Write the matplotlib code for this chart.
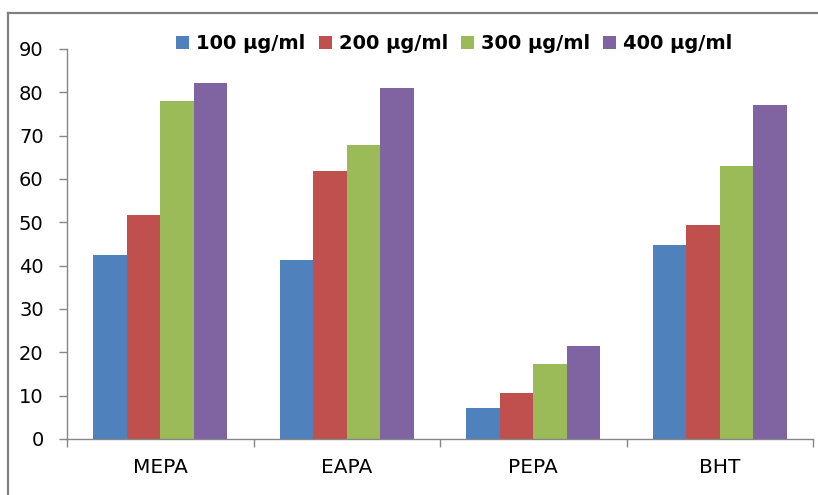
import matplotlib
matplotlib.use("Agg")
import matplotlib.pyplot as plt
import numpy as np
from matplotlib.lines import Line2D

categories = ["MEPA", "EAPA", "PEPA", "BHT"]
series_labels = ["100 µg/ml", "200 µg/ml", "300 µg/ml", "400 µg/ml"]
v100 = [42.5, 41.3, 7.1, 44.8]
v200 = [51.8, 61.8, 10.6, 49.3]
v300 = [77.9, 67.8, 17.4, 62.9]
v400 = [82.2, 81.1, 21.4, 77.1]
yticks = [0, 10, 20, 30, 40, 50, 60, 70, 80, 90]
colors = ["#4F81BD", "#C0504D", "#9BBB59", "#8064A2"]

plt.rcParams['font.family'] = ['DejaVu Sans']
W, H = 818, 495
fig = plt.figure(figsize=(W / 100, H / 100), dpi=100)
ax = fig.add_axes([67 / W, 1 - 439 / H, (813 - 67) / W, (439 - 49) / H])

x = np.arange(len(categories))
bw = 0.18
data = [v100, v200, v300, v400]
for i, (vals, lab, c) in enumerate(zip(data, series_labels, colors)):
    ax.bar(x + (i - 1.5) * bw, vals, width=bw, color=c, label=lab, linewidth=0)

ax.set_xlim(-0.5, len(categories) - 0.5)
ax.set_ylim(0, 90)
ax.set_yticks(yticks)
ax.set_yticklabels([str(t) for t in yticks])
ax.set_xticks(x)
ax.set_xticklabels(categories)
ax.set_xticks(np.arange(-0.5, len(categories), 1.0), minor=True)

axis_col = "#868686"
for s in ["top", "right"]:
    ax.spines[s].set_visible(False)
for s in ["left", "bottom"]:
    ax.spines[s].set_color(axis_col)
    ax.spines[s].set_linewidth(1.0)

ax.tick_params(axis='y', direction='out', length=5.8, width=1.0, color=axis_col,
               labelsize=14, pad=11, labelcolor='black')
ax.tick_params(axis='x', which='major', length=0, labelsize=14.5, pad=14, labelcolor='black')
ax.tick_params(axis='x', which='minor', direction='out', length=5.8, width=1.0, color=axis_col)

leg = fig.legend(loc='center', bbox_to_anchor=(454.5 / W, 1 - 43.5 / H), ncol=4,
                 frameon=False, prop={'weight': 'bold', 'size': 14},
                 handlelength=0.67, handleheight=0.67, handletextpad=0.36,
                 columnspacing=0.67, borderpad=0, borderaxespad=0)

border_col = "#808080"
fig.add_artist(Line2D([8 / W, 1.0], [1 - 13 / H, 1 - 13 / H], transform=fig.transFigure,
                      color=border_col, linewidth=1.6))
fig.add_artist(Line2D([8 / W, 8 / W], [1 - 13 / H, 0.0], transform=fig.transFigure,
                      color=border_col, linewidth=1.6))

fig.savefig("out.png", dpi=100)
